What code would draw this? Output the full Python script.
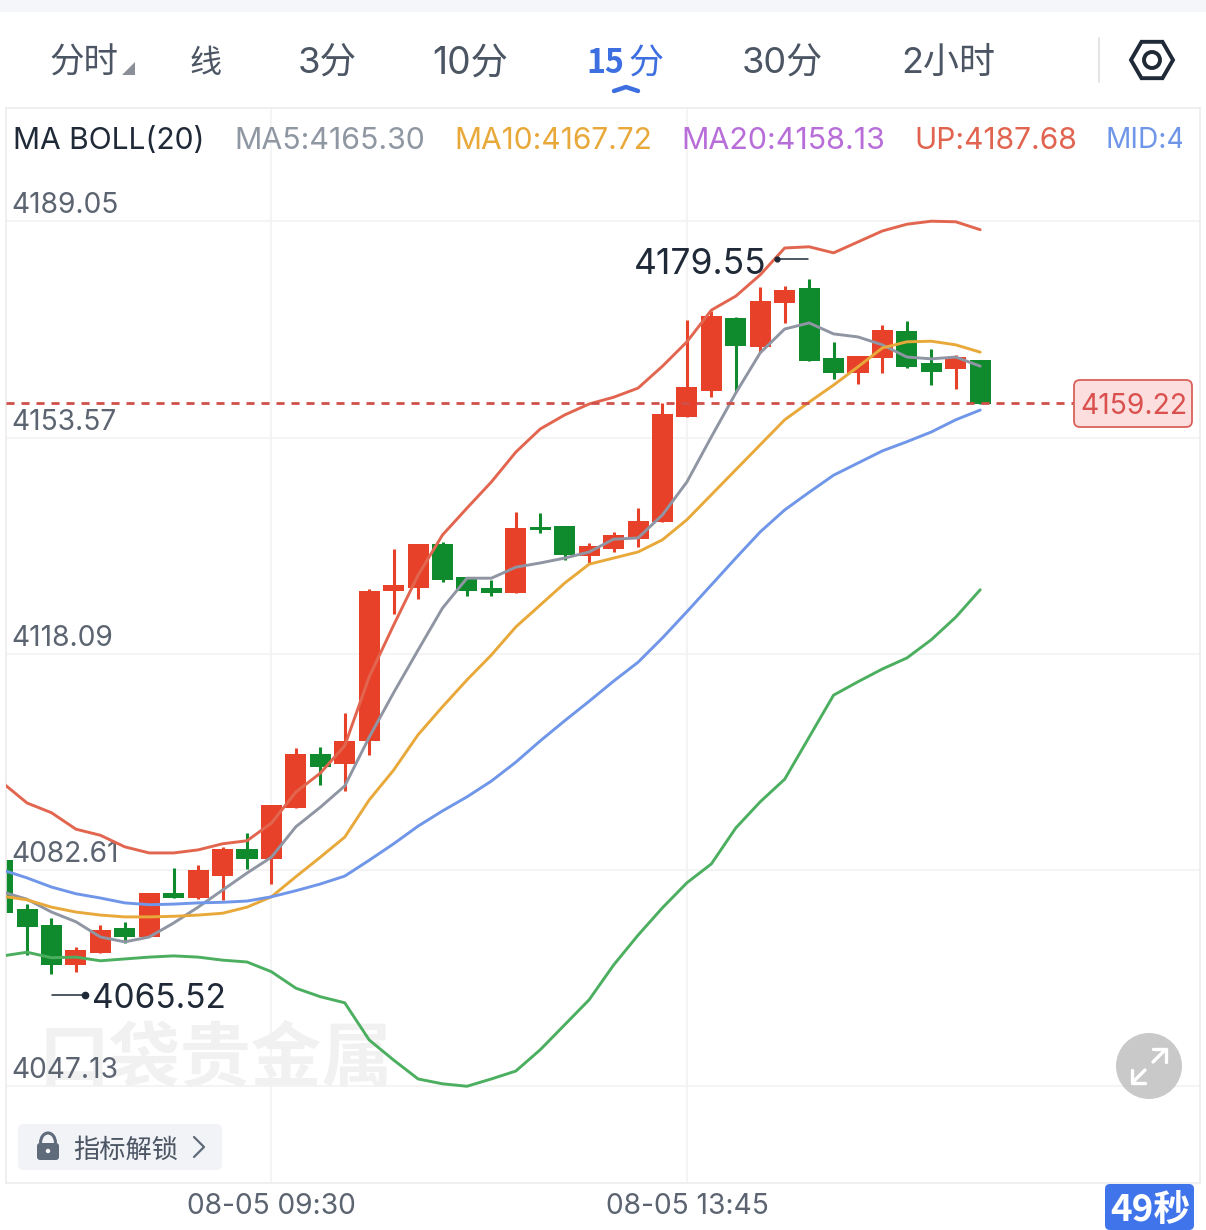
import numpy as np, pandas as pd, seaborn as sns
import matplotlib
matplotlib.use("Agg")
import matplotlib.pyplot as plt
from matplotlib.transforms import ScaledTranslation
from matplotlib.patches import FancyBboxPatch, Rectangle, RegularPolygon, Circle, Polygon, Arc

candle_dir = list("gggrrgrgrrgrrgrrrrgggrggrrrrrrgrrggrrggrg")
body_top = [4084.2,4076.2,4073.6,4069.5,4072.8,4073.1,4078.8,4078.8,4082.6,4086.0,4086.0,4093.3,4101.6,4101.6,4103.8,4128.4,4129.4,4136.1,4136.1,4130.7,4128.9,4138.7,4138.9,4139.1,4135.8,4137.6,4139.9,4157.5,4161.9,4173.5,4173.2,4176.0,4177.8,4178.1,4166.6,4167.0,4171.2,4171.1,4165.8,4166.8,4166.3]
body_bot = [4075.5,4073.2,4067.0,4067.0,4069.0,4071.6,4071.6,4078.0,4078.0,4081.6,4084.4,4084.4,4092.8,4099.5,4100.0,4103.8,4128.4,4128.9,4130.2,4128.4,4128.1,4128.1,4138.4,4134.3,4134.1,4135.3,4136.9,4139.7,4157.0,4161.2,4168.6,4168.4,4175.7,4166.2,4164.2,4164.2,4166.6,4165.2,4164.3,4164.8,4159.1]
wick_high = [4085.1,4077.0,4074.7,4070.0,4073.6,4074.1,4078.8,4082.9,4083.4,4086.4,4088.7,4093.3,4102.6,4102.8,4108.4,4128.7,4135.3,4136.1,4136.4,4130.7,4130.2,4141.4,4141.2,4139.1,4136.3,4138.1,4142.0,4159.3,4172.9,4174.4,4173.4,4178.3,4178.5,4179.6,4169.3,4167.0,4172.1,4172.7,4168.1,4167.1,4166.3]
wick_low = [4075.0,4068.6,4065.5,4065.9,4069.0,4070.6,4071.6,4078.0,4077.8,4077.7,4082.8,4080.3,4092.8,4096.6,4095.6,4101.5,4124.6,4127.1,4129.9,4127.6,4127.6,4128.1,4137.9,4133.5,4133.0,4134.8,4135.6,4139.7,4157.0,4160.2,4161.2,4167.6,4172.4,4166.2,4163.2,4162.4,4164.2,4165.0,4162.2,4161.6,4159.1]
boll_up = [4096.9,4093.6,4092.0,4089.3,4088.3,4086.4,4085.4,4085.4,4085.9,4086.9,4087.4,4090.3,4095.4,4098.5,4103.0,4114.3,4122.8,4131.0,4137.6,4142.0,4146.3,4151.2,4155.0,4157.3,4159.1,4160.2,4161.7,4165.3,4169.3,4174.5,4176.8,4180.3,4184.7,4184.9,4183.9,4185.7,4187.5,4188.6,4189.1,4189.0,4187.7]
ma5 = [4079.0,4077.8,4075.7,4074.1,4071.6,4070.8,4071.6,4073.9,4076.5,4079.3,4082.1,4084.7,4089.7,4092.9,4096.4,4104.4,4111.7,4118.7,4125.6,4130.5,4130.5,4132.3,4133.0,4133.8,4134.8,4136.9,4137.1,4140.9,4146.3,4153.7,4160.9,4167.5,4171.4,4172.4,4170.6,4170.1,4168.8,4166.8,4166.5,4166.8,4165.3]
ma10 = [4078.3,4077.7,4076.5,4075.7,4075.2,4074.9,4074.9,4075.0,4075.2,4075.5,4076.5,4078.2,4081.5,4084.7,4088.0,4094.1,4099.0,4104.8,4109.4,4113.8,4117.9,4122.5,4126.1,4129.7,4132.8,4133.8,4134.8,4136.8,4140.1,4144.2,4148.3,4152.4,4156.5,4159.4,4162.2,4165.2,4168.3,4169.3,4169.4,4168.8,4167.6]
boll_mid = [4082.6,4081.3,4079.8,4078.7,4078.0,4077.2,4076.9,4077.0,4077.2,4077.3,4077.5,4078.2,4079.2,4080.3,4081.6,4084.2,4086.9,4089.8,4092.3,4094.6,4097.2,4100.3,4103.8,4107.1,4110.3,4113.6,4116.7,4120.7,4125.0,4129.4,4133.8,4138.1,4141.7,4144.6,4147.4,4149.4,4151.4,4152.9,4154.5,4156.5,4158.1]
boll_low = [4068.5,4069.1,4068.2,4068.3,4067.7,4068.0,4068.3,4068.5,4068.3,4067.8,4067.5,4065.9,4063.2,4061.8,4060.8,4054.7,4051.4,4048.3,4047.5,4047.1,4048.3,4049.6,4053.1,4057.2,4061.3,4067.0,4071.9,4076.4,4080.5,4083.6,4089.5,4093.8,4097.5,4104.4,4111.3,4113.5,4115.6,4117.4,4120.4,4124.1,4128.6]
price_ticks = [4189.05,4153.57,4118.09,4082.61,4047.13]
time_ticks = [11,28]
time_labels = ["08-05 09:30","08-05 13:45"]
last_price = 4159.22
max_price = 4179.55
min_price = 4065.52

sns.set_theme(style="white")
LATIN = ['Inter','Noto Sans CJK SC','DejaVu Sans']
CJK = ['Noto Sans CJK SC','DejaVu Sans']
plt.rcParams['font.family'] = LATIN
fig = plt.figure(figsize=(12.06,12.30),dpi=100,facecolor='white')
wm = fig.text(38/1206,1-1095/1230,"口袋贵金属",family=CJK,weight='bold',fontsize=51,color='#f1f1f1',ha='left',va='bottom',zorder=1)
wm.set_clip_on(True)
wm.set_clip_path(Rectangle((0,1-1087/1230),1,1,transform=fig.transFigure))
ax = fig.add_axes([6/1206,1-1183/1230,1194/1206,1075/1230],zorder=2)
ax.patch.set_visible(False)
ax.set_xlim((6-2.6)/24.44,(1200-2.6)/24.44)
ax.set_ylim(4031.22,4207.68)

n = len(body_top)
idx = np.arange(n)
RED,GREEN='#e8412a','#0f8a2c'
cols=[RED if d=='r' else GREEN for d in candle_dir]
ax.vlines(idx,wick_low,wick_high,colors=cols,lw=2.2,zorder=1.5)
ax.bar(idx,np.array(body_top)-np.array(body_bot),bottom=body_bot,width=0.86,color=cols,linewidth=0,zorder=1.6)

series={'UP':boll_up,'MA5':ma5,'MA10':ma10,'MID':boll_mid,'LOW':boll_low}
pal={'UP':'#e2664f','MA5':'#8f95a3','MA10':'#e8a93a','MID':'#6f96e8','LOW':'#4caf60'}
df=pd.concat([pd.DataFrame({'i':idx,'price':v,'series':k}) for k,v in series.items()])
sns.lineplot(data=df,x='i',y='price',hue='series',palette=pal,legend=False,lw=2.1,errorbar=None,ax=ax,zorder=3)
ax.hlines(last_price,ax.get_xlim()[0],(1075-2.6)/24.44,colors='#cf4f4a',lw=2,linestyles=(0,(2.9,2.5)),zorder=4)

ax.set_yticks(price_ticks); ax.set_yticklabels([f"{p:.2f}" for p in price_ticks])
ax.set_xticks(time_ticks); ax.set_xticklabels(time_labels)
ax.grid(True,color='#f2f2f3',lw=1.2)
ax.set_axisbelow(True)
ax.set_xlabel(''); ax.set_ylabel('')
ax.tick_params(axis='y',length=0,pad=-3.6,labelsize=20.3,labelcolor='#5b6470')
ax.tick_params(axis='x',length=0,pad=7.5,labelsize=20.3,labelcolor='#5b6470')
lift = ScaledTranslation(0,1.5/72,fig.dpi_scale_trans)
for t in ax.get_yticklabels():
    t.set_ha('left'); t.set_va('bottom')
    t.set_transform(t.get_transform()+lift)
for s in ax.spines.values():
    s.set_color('#ececec'); s.set_linewidth(1.2)

ax.annotate(f"{max_price:.2f}",xy=(33,max_price),xytext=(-43,15),textcoords='offset pixels',ha='right',va='center',fontsize=25.5,color='#1f2937',zorder=6)
ax.annotate(f"{min_price:.2f}",xy=(2,min_price),xytext=(41,-25),textcoords='offset pixels',ha='left',va='center',fontsize=24,color='#1f2937',zorder=6)

ov = fig.add_axes([0,0,1,1],zorder=5)
ov.set_xlim(0,1206); ov.set_ylim(1230,0); ov.axis('off'); ov.patch.set_visible(False)
ov.add_patch(Rectangle((0,0),1206,12,color='#f5f6fa',lw=0))
rend=fig.canvas.get_renderer()
def fit(x0,x1,yc,s,color,**kw):
    t=ov.text(x0,yc,s,color=color,ha='left',va='center_baseline',fontsize=20,**kw)
    w=t.get_window_extent(rend).width
    t.set_fontsize(20*(x1-x0)/w)
    return t
TAB='#4b5563'; BLUE='#3d6fe0'
for x0,x1,s in [(49,118,"分时"),(190,222,"线"),(298,357,"3分"),(432,508,"10分"),(742,823,"30分"),(901,995,"2小时")]:
    fit(x0,x1,60,s,TAB,family=LATIN)
fit(586,624,60,"15",BLUE,family=CJK,weight='bold')
fit(628,663,60,"分",BLUE,family=CJK)
ov.add_patch(Polygon([(122,75),(135,75),(135,62)],color='#8a8f98',lw=0))
ov.plot([614,626,638],[91,87,91],color=BLUE,lw=3.2,solid_capstyle='round',solid_joinstyle='round')
ov.plot([1099,1099],[38,82],color='#e6e6e6',lw=1.5)
ov.add_patch(RegularPolygon((1152,60),6,radius=21,orientation=np.pi/6,fill=False,edgecolor='#1f2937',lw=2.8))
ov.add_patch(Circle((1152,60),8,fill=False,edgecolor='#1f2937',lw=2.8))

fit(13,205,138,"MA BOLL(20)",'#1f2937',family=LATIN)
fit(234,425,138,"MA5:4165.30",'#8f97a3',family=LATIN)
fit(454,652,138,"MA10:4167.72",'#e8a93a',family=LATIN)
fit(681,885,138,"MA20:4158.13",'#b86ed9',family=LATIN)
fit(914,1077,138,"UP:4187.68",'#e0644f',family=LATIN)
t=fit(1106,1268,138,"MID:4158.13",'#6f96e8',family=LATIN)
t.set_clip_on(True); t.set_clip_path(Rectangle((1100,110),82,60,transform=ov.transData))

ov.plot([777,808],[259,259],color='#1f2937',lw=1.1); ov.plot([777],[259],'o',ms=3.5,color='#1f2937')
ov.plot([52,85],[995,995],color='#1f2937',lw=1.1); ov.plot([85],[995],'o',ms=4.5,color='#1f2937')

ov.add_patch(FancyBboxPatch((1074,380),118,47,boxstyle="round,pad=0,rounding_size=6",fc='#fbdedd',ec='#d9605a',lw=1.3))
fit(1080,1187,403.5,f"{last_price:.2f}",'#d9504e',family=LATIN)

ov.add_patch(FancyBboxPatch((18,1124),204,46,boxstyle="round,pad=0,rounding_size=6",fc='#f1f3f6',ec='none'))
ov.add_patch(FancyBboxPatch((37,1143),22,17,boxstyle="round,pad=0,rounding_size=3",fc='#5f6b7a',ec='none'))
ov.add_patch(Arc((48,1143),15,20,theta1=180,theta2=360,color='#5f6b7a',lw=2.2))
ov.add_patch(Circle((48,1151),2.2,color='white',lw=0))
fit(73,178,1147,"指标解锁",'#4b5563',family=CJK)
ov.plot([194,204,194],[1137,1147,1157],color='#5f6b7a',lw=1.6)

ov.add_patch(Circle((1149,1066),33,color='#c9c9c9',lw=0))
for pts in ([(1153,1062),(1165,1050)],[(1145,1070),(1133,1082)]):
    ov.plot(*zip(*pts),color='white',lw=2.4)
ov.plot([1153,1166,1166],[1049,1049,1062],color='white',lw=2.4)
ov.plot([1132,1132,1145],[1070,1083,1083],color='white',lw=2.4)

ov.add_patch(FancyBboxPatch((1105,1184),89,46,boxstyle="round,pad=0,rounding_size=5",fc='#3f74ea',ec='none'))
fit(1110,1190,1206,"49秒",'white',family=CJK,weight='bold')

fig.savefig("out.png",dpi=100)
